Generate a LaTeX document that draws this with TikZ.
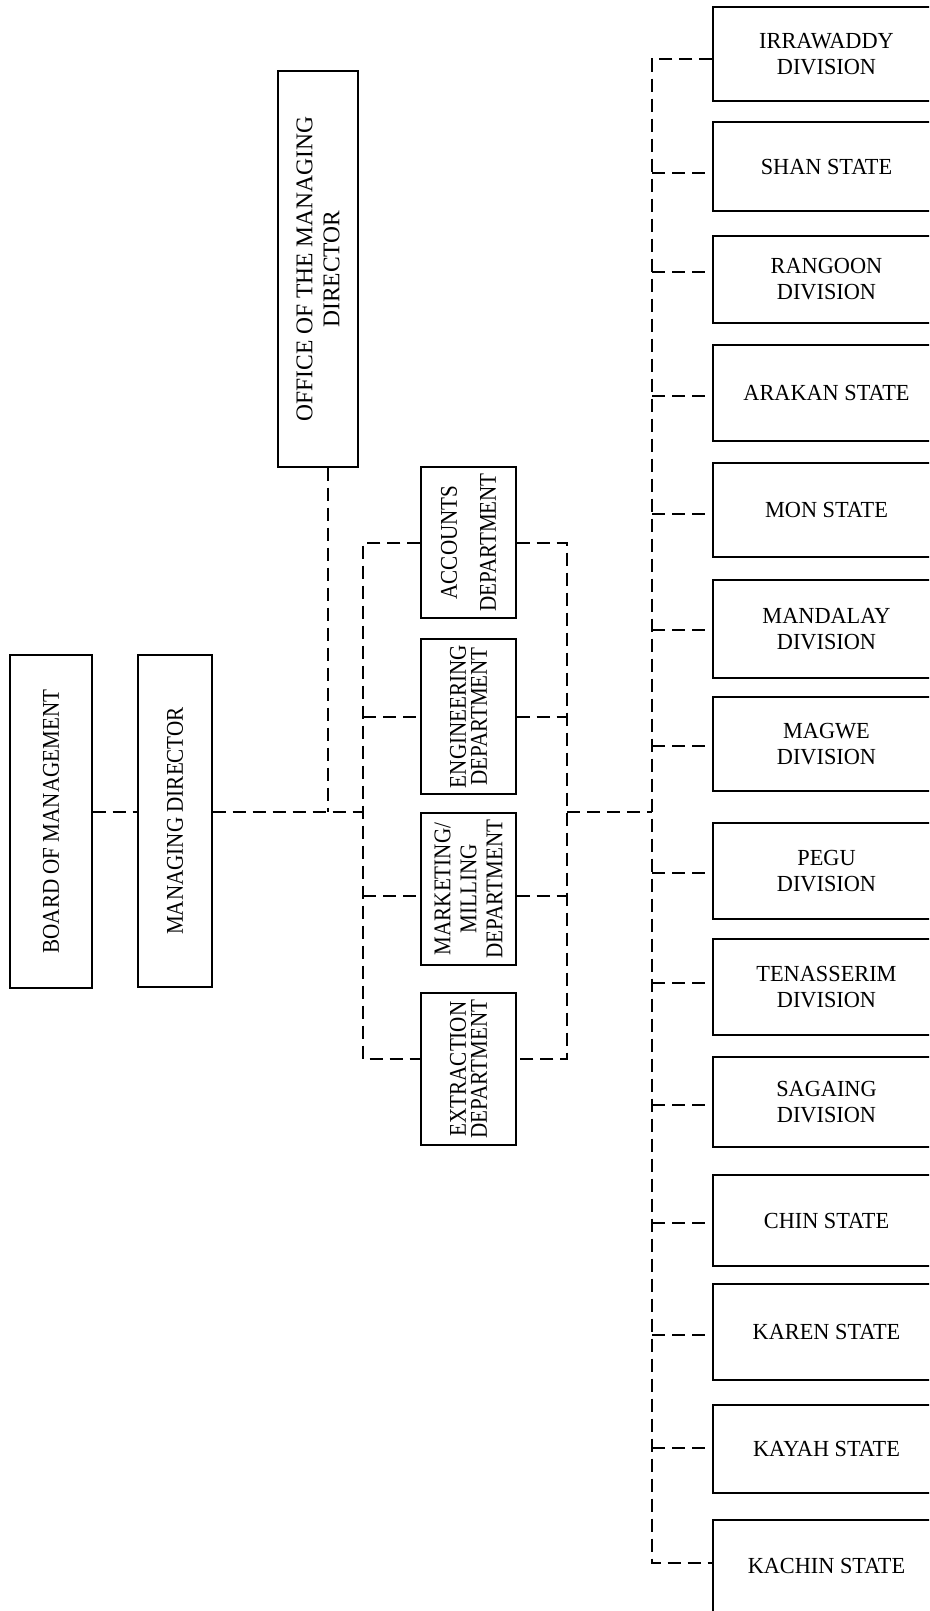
\documentclass[tikz,border=0pt]{standalone}
\usepackage{fontspec}
\setmainfont{Liberation Serif}
\newfontfamily\rotfont[FakeStretch=0.88]{Liberation Serif}
\newfontfamily\offfont[FakeStretch=0.98]{Liberation Serif}
\newfontfamily\divfont[FakeStretch=0.97]{Liberation Serif}
\begin{document}
\begin{tikzpicture}[x=1pt,y=-1pt,
  box/.style={draw, line width=1.3pt, inner sep=0pt, align=center},
  rbox/.style={box, rotate=90, font=\rotfont\fontsize{24}{27}\selectfont},
  deptbox/.style={rbox, minimum height=95pt, font=\rotfont\fontsize{24}{21}\selectfont},
  divbox/.style={box, minimum width=227pt, font=\divfont\fontsize{23}{26}\selectfont},
  conn/.style={line width=1.2pt, dash pattern=on 13pt off 7pt},
]
\path[use as bounding box, clip] (0,0) rectangle (929,1611);
\fill[white] (0,0) rectangle (929,1611);

% ---- top management (rotated boxes) ----
\node[rbox, minimum width=333pt, minimum height=82pt] (board) at (51,821.5) {BOARD OF MANAGEMENT};
\node[rbox, minimum width=332pt, minimum height=74pt] (md) at (175,821) {MANAGING DIRECTOR};
\node[rbox, minimum width=396pt, minimum height=80pt, font=\offfont\fontsize{24}{27}\selectfont] (office) at (318,269) {OFFICE OF THE MANAGING\\DIRECTOR};

% ---- departments ----
\node[deptbox, minimum width=151pt] (acc) at (468.5,542.5) {ACCOUNTS\\[18pt]DEPARTMENT};
\node[deptbox, minimum width=155pt] (eng) at (468.5,716.5) {ENGINEERING\\DEPARTMENT};
\node[deptbox, minimum width=152pt] (mkt) at (468.5,889) {MARKETING/\\[5pt]MILLING\\[5pt]DEPARTMENT};
\node[deptbox, minimum width=152pt] (ext) at (468.5,1069) {EXTRACTION\\DEPARTMENT};

% ---- states and divisions ----
\node[divbox, minimum height=94pt] (irr) at (826.5,54)   {IRRAWADDY\\DIVISION};
\node[divbox, minimum height=89pt] (shan) at (826.5,166.5) {SHAN STATE};
\node[divbox, minimum height=87pt] (rgn) at (826.5,279.5) {RANGOON\\DIVISION};
\node[divbox, minimum height=96pt] (ark) at (826.5,393)  {ARAKAN STATE};
\node[divbox, minimum height=94pt] (mon) at (826.5,510)  {MON STATE};
\node[divbox, minimum height=98pt] (mdy) at (826.5,629)  {MANDALAY\\DIVISION};
\node[divbox, minimum height=94pt] (mgw) at (826.5,744)  {MAGWE\\DIVISION};
\node[divbox, minimum height=96pt] (pegu) at (826.5,871) {PEGU\\DIVISION};
\node[divbox, minimum height=96pt] (ten) at (826.5,987)  {TENASSERIM\\DIVISION};
\node[divbox, minimum height=90pt] (sag) at (826.5,1102) {SAGAING\\DIVISION};
\node[divbox, minimum height=91pt] (chin) at (826.5,1220.5) {CHIN STATE};
\node[divbox, minimum height=96pt] (kar) at (826.5,1332) {KAREN STATE};
\node[divbox, minimum height=88pt] (kay) at (826.5,1449) {KAYAH STATE};
\node[divbox, minimum height=92pt] (kac) at (826.5,1566) {KACHIN STATE};

% ---- junction points ----
\coordinate (jo) at (328,812);
\coordinate (lm) at (363,812);
\coordinate (lt) at (363,543);
\coordinate (le) at (363,717);
\coordinate (lk) at (363,896);
\coordinate (lb) at (363,1059);
\coordinate (rm) at (567,812);
\coordinate (rt) at (567,543);
\coordinate (re) at (567,717);
\coordinate (rk) at (567,896);
\coordinate (rb) at (567,1059);
\coordinate (bm) at (652,812);
\coordinate (b1) at (652,59);
\coordinate (b2) at (652,173);
\coordinate (b3) at (652,272);
\coordinate (b4) at (652,396);
\coordinate (b5) at (652,514);
\coordinate (b6) at (652,630);
\coordinate (b7) at (652,746);
\coordinate (b8) at (652,873);
\coordinate (b9) at (652,983);
\coordinate (b10) at (652,1105);
\coordinate (b11) at (652,1223);
\coordinate (b12) at (652,1335);
\coordinate (b13) at (652,1448);
\coordinate (b14) at (652,1563);

% ---- main line ----
\draw[conn] (board.south |- jo) -- (md.north |- jo);
\draw[conn] (md.south |- jo) -- (jo) -- (lm);
\draw[conn] (jo |- office.west) -- (jo);

% ---- department brackets ----
\draw[conn] (acc.north |- lt) -- (lt) -- (lb) -- (ext.north |- lb);
\draw[conn] (le) -- (eng.north |- le);
\draw[conn] (lk) -- (mkt.north |- lk);
\draw[conn] (acc.south |- rt) -- (rt) -- (rb) -- (ext.south |- rb);
\draw[conn] (eng.south |- re) -- (re);
\draw[conn] (mkt.south |- rk) -- (rk);
\draw[conn] (rm) -- (bm);

% ---- bus to states and divisions ----
\draw[conn] (irr.west |- b1) -- (b1) -- (b14) -- (kac.west |- b14);
\draw[conn] (b2) -- (shan.west |- b2);
\draw[conn] (b3) -- (rgn.west |- b3);
\draw[conn] (b4) -- (ark.west |- b4);
\draw[conn] (b5) -- (mon.west |- b5);
\draw[conn] (b6) -- (mdy.west |- b6);
\draw[conn] (b7) -- (mgw.west |- b7);
\draw[conn] (b8) -- (pegu.west |- b8);
\draw[conn] (b9) -- (ten.west |- b9);
\draw[conn] (b10) -- (sag.west |- b10);
\draw[conn] (b11) -- (chin.west |- b11);
\draw[conn] (b12) -- (kar.west |- b12);
\draw[conn] (b13) -- (kay.west |- b13);
\end{tikzpicture}
\end{document}
